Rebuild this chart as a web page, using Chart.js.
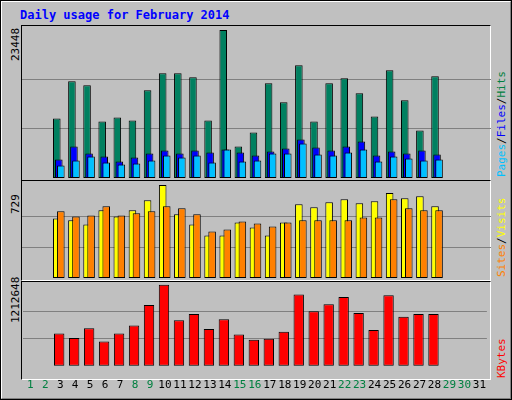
<!DOCTYPE html>
<html><head><meta charset="utf-8">
<script src="https://cdn.jsdelivr.net/npm/chart.js@4"></script>
<style>
html,body{margin:0;padding:0;background:#fff}
#page{position:relative;width:512px;height:400px;background:#C0C0C0;box-sizing:border-box;border:1px solid #000;overflow:hidden;font-family:"DejaVu Sans Mono","Liberation Mono",monospace}
#inner{position:absolute;left:0;top:0;right:0;bottom:0;border-top:1px solid #fff;border-left:1px solid #fff;border-right:1px solid #808080;border-bottom:1px solid #808080}
.panel{position:absolute;left:20px;width:470px;box-sizing:border-box;border-top:1px solid #000;border-left:1px solid #000;border-right:1px solid #fff;border-bottom:1px solid #fff}
.cv{position:absolute}
.vt{position:absolute;transform:rotate(-90deg);transform-origin:0 0;white-space:nowrap;font-size:11px;line-height:11px}
#title{position:absolute;left:19px;top:7px;color:#0000FF;font-weight:bold;font-size:12px}
</style></head><body>
<div id="page"><div id="inner"></div>
<div id="title">Daily usage for February 2014</div>
<div class="panel" style="top:24px;height:156px"></div>
<div class="panel" style="top:179px;height:101px"></div>
<div class="panel" style="top:280px;height:99px"></div>
<div class="cv" style="left:21px;top:25px;width:469px;height:152px"><canvas id="c1"></canvas></div>
<div class="cv" style="left:21px;top:180px;width:469px;height:97px"><canvas id="c2"></canvas></div>
<div class="cv" style="left:21px;top:281px;width:469px;height:115px"><canvas id="c3"></canvas></div>
<div class="vt" style="left:9px;top:60px" id="yl1"></div>
<div class="vt" style="left:9px;top:213px" id="yl2"></div>
<div class="vt" style="left:9px;top:322px" id="yl3"></div>
<div class="vt" style="left:495px;top:176px"><span style="color:#00C0FF">Pages</span><span style="color:#000">/</span><span style="color:#0000FF">Files</span><span style="color:#000">/</span><span style="color:#008040">Hits</span></div>
<div class="vt" style="left:495px;top:276px"><span style="color:#FF8000">Sites</span><span style="color:#000">/</span><span style="color:#FFFF00">Visits</span></div>
<div class="vt" style="left:495px;top:377px"><span style="color:#FF0000">KBytes</span></div>
</div>
<script>
const days = Array.from({length:31},(_,i)=>String(i+1));
const weekendDays = [1,2,8,9,15,16,22,23,29,30];
const hits  = [0,0,9443,15331,14695,8965,9602,9125,13899,16605,16605,15968,9125,23448,4987,7215,15013,11989,17878,8965,15013,15809,13422,9761,17082,12308,7533,16127,0,0,0];
const files = [0,0,2918,4987,3873,3395,2600,3236,3873,4350,3873,4350,4032,4509,4032,3554,4191,4668,6101,4828,4350,4987,5782,3554,4191,3873,4350,3714,0,0,0];
const pages = [0,0,1963,2759,3395,2440,2122,2281,2759,3554,3236,3554,2440,4509,2600,2759,3873,3873,5464,3714,3554,4032,4509,2600,3395,3077,2759,2918,0,0,0];
const visits= [0,0,467,452,420,531,483,531,610,729,499,420,333,333,436,396,333,436,578,555,594,618,586,602,666,626,642,563,0,0,0];
const sites = [0,0,523,483,491,563,491,507,523,563,547,499,364,380,444,428,404,436,452,452,452,452,475,475,618,547,531,531,0,0,0];
const kbytes= [0,0,482400,416000,562000,363000,482400,601900,907300,1212648,681600,774500,548800,694800,469100,389500,402700,509000,1066600,814300,920500,1026800,787800,535500,1053300,734700,774500,774500,0,0,0];
const yLabels = ["23448","729","1212648"];
document.getElementById('yl1').textContent=yLabels[0];
document.getElementById('yl2').textContent=yLabels[1];
document.getElementById('yl3').textContent=yLabels[2];
const zeros = days.map(()=>0);
function ds(data,color,order,bp){return {data,backgroundColor:color,borderColor:'#000',borderWidth:color==='transparent'?0:1,borderSkipped:false,barPercentage:bp,categoryPercentage:8/15,order};}
function yAxis(maxV,topPx,h){
  const m = maxV*h/(h-topPx);
  return {min:0,max:m,display:true,border:{display:false},ticks:{display:false},
    afterBuildTicks:a=>{a.ticks=[{value:maxV/3},{value:2*maxV/3}];},
    grid:{color:'#808080',lineWidth:1,drawTicks:false}};
}
// draw datasets in ascending order so later slots (right) sit on top
const drawOrder={id:'drawOrder',beforeDatasetsDraw(chart){
  for(const m of chart._getSortedDatasetMetas()){ if(m.visible) m.controller.draw(); }
  return false;}};
function mk(id,datasets,y,showX){
  new Chart(document.getElementById(id),{type:'bar',data:{labels:days,datasets},plugins:[drawOrder],
    options:{responsive:true,maintainAspectRatio:false,animation:false,
      layout:{padding:0},
      plugins:{legend:{display:false},tooltip:{enabled:false}},
      scales:{x:{display:showX,offset:true,grid:{display:false},border:{display:false},
        ticks:{padding:showX?5:0,autoSkip:false,maxRotation:0,font:{family:'DejaVu Sans Mono',size:11},
          color:c=>weekendDays.includes(c.index+1)?'#008040':'#000'}},
        y}}});
}
mk('c1',[ds(hits,'#008060',1,3.75),ds(files,'#0000FF',2,3.75),ds(pages,'#00C0FF',3,3.75),ds(zeros,'transparent',4,1)],yAxis(23448,4,151),false);
mk('c2',[ds(visits,'#FFFF00',1,3.75),ds(zeros,'transparent',2,1),ds(sites,'#FF8000',3,3.75),ds(zeros,'transparent',4,1)],yAxis(729,4,96),false);
mk('c3',[ds(zeros,'transparent',1,1),ds(kbytes,'#FF0000',2,5.2),ds(zeros,'transparent',3,1),ds(zeros,'transparent',4,1)],yAxis(1212648,3,95),true);
</script>
</body></html>
